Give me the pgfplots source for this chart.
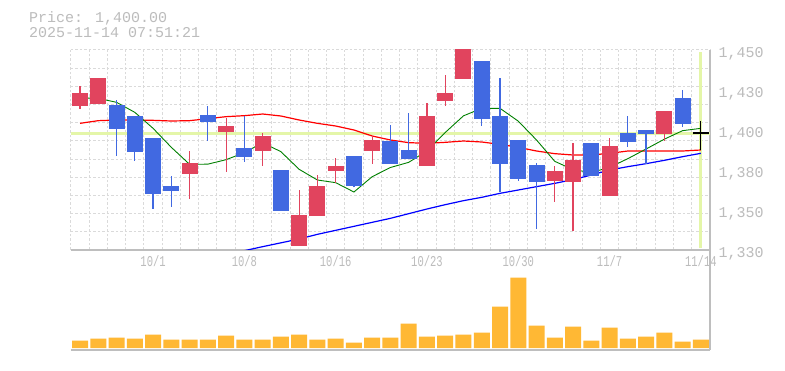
\documentclass[border=0pt]{standalone}
\usepackage{fontspec}
\setmainfont{Liberation Mono}
\usepackage{pgfplots}
\pgfplotsset{compat=1.18}
\usepackage{pgfplotstable}

\definecolor{upred}{RGB}{225,68,94}
\definecolor{dnblue}{RGB}{65,105,225}
\definecolor{volc}{RGB}{255,184,52}
\definecolor{hlc}{RGB}{228,246,168}
\definecolor{gridc}{RGB}{218,218,218}
\definecolor{axc}{RGB}{190,190,190}
\definecolor{txtc}{RGB}{188,188,188}
\definecolor{magreen}{RGB}{0,128,0}

% up candles (red): x, low, high, body bottom, body top
\pgfplotstableread{
x  lo     hi     bot    top
0  1414.8 1428.4 1416.6 1424.2
1  1417.8 1433.2 1417.8 1433.2
6  1360.6 1389.4 1375.8 1382.2
8  1377.0 1409.2 1401.0 1404.4
10 1380.6 1400.2 1389.6 1398.4
12 1332.6 1366.0 1332.6 1351.0
13 1350.6 1375.0 1350.6 1368.4
14 1370.4 1385.4 1377.6 1380.4
16 1381.8 1398.2 1389.6 1395.8
19 1380.6 1418.0 1380.6 1410.4
20 1416.6 1435.0 1419.6 1424.2
21 1432.8 1452.0 1432.8 1452.0
26 1359.0 1380.4 1371.6 1377.4
27 1341.4 1394.2 1371.0 1384.2
29 1362.6 1397.2 1362.6 1392.4
32 1395.4 1413.4 1399.6 1413.4
}\upc

% down candles (blue)
\pgfplotstableread{
x  lo     hi     bot    top
2  1386.6 1419.8 1402.8 1417.0
3  1383.6 1410.4 1389.0 1410.4
4  1354.8 1397.2 1363.8 1397.2
5  1356.0 1374.4 1365.6 1368.4
7  1395.6 1416.4 1406.8 1411.0
9  1383.0 1410.4 1386.0 1391.2
11 1353.6 1378.0 1353.6 1378.0
15 1367.6 1386.4 1368.6 1386.4
17 1381.8 1405.0 1381.8 1395.4
18 1384.8 1412.2 1384.8 1390.0
22 1404.6 1443.4 1408.8 1443.4
23 1364.6 1433.2 1381.8 1410.4
24 1371.6 1396.0 1372.8 1396.0
25 1342.6 1382.2 1371.0 1381.0
28 1374.6 1394.2 1374.6 1394.2
30 1392.0 1410.4 1395.0 1400.2
31 1381.4 1402.2 1399.8 1402.2
33 1404.0 1426.0 1405.8 1421.2
}\dnc

% current (doji, black)
\pgfplotstableread{
x  lo     hi     bot    top
34 1390.0 1407.4 1399.5 1400.5
}\cur

\pgfplotstableread{
x v
0 1406
1 1407.6
2 1408
3 1408
4 1407.8
5 1407.4
6 1407.6
7 1408.8
8 1410
9 1410.6
10 1411.6
11 1410.4
12 1408
13 1406
14 1404.4
15 1402
16 1398.4
17 1396
18 1394.4
19 1394
20 1394.6
21 1395.4
22 1394.8
23 1393.4
24 1391.6
25 1389.4
26 1387.8
27 1387
28 1387
29 1388
30 1389.4
31 1389.4
32 1389.4
33 1389.4
34 1390
}\maRed

\pgfplotstableread{
x v
0 1421.2
1 1421
2 1418.6
3 1412.6
4 1403
5 1391.6
6 1381.4
7 1381.5
8 1384.2
9 1388.4
10 1394.4
11 1389
12 1378.4
13 1372
14 1370.4
15 1364.8
16 1374
17 1379.5
18 1382.6
19 1389.5
20 1400.5
21 1410.5
22 1415
23 1415
24 1407.3
25 1396
26 1383.2
27 1378.2
28 1376.5
29 1379.6
30 1384.8
31 1390.6
32 1396.5
33 1401.6
34 1403
}\maGreen

\pgfplotstableread{
x v
8 1327.2
9 1329.6
10 1332
11 1334.3
12 1336.6
13 1339.4
14 1341.8
15 1344.2
16 1346.6
17 1349
18 1351.8
19 1354.6
20 1357.2
21 1359.6
22 1361.6
23 1364
24 1366
25 1368
26 1370
27 1372.2
28 1375
29 1378
30 1380
31 1381.8
32 1383.8
33 1386
34 1388
}\maBlue

\pgfplotstableread{
x v
0 23
1 29
2 32
3 29
4 41
5 26
6 26
7 26
8 38
9 26
10 26
11 35
12 41
13 26
14 29
15 17
16 32
17 32
18 74
19 35
20 38
21 41
22 47
23 125
24 212
25 68
26 32
27 65
28 23
29 62
30 29
31 35
32 47
33 20
34 26
}\vol

\pgfplotsset{
  wick/.style={draw=none, mark=none, forget plot,
    error bars/.cd, y dir=plus, y explicit, error mark=none,
    error bar style={draw=#1, solid, line width=1.2pt}},
  body/.style={draw=none, mark=none, forget plot,
    error bars/.cd, y dir=plus, y explicit, error mark=none,
    error bar style={draw=#1, solid, line width=16pt}},
}

\begin{document}
\begin{tikzpicture}
\fill[white] (0pt,0pt) rectangle (785pt,370pt);
\path[use as bounding box] (0pt,0pt) rectangle (785pt,370pt);

\node[anchor=base west, text=txtc, font=\fontsize{15pt}{18pt}\selectfont, inner sep=0pt] at (29pt,347.3pt) {Price: 1,400.00};
\node[anchor=base west, text=txtc, font=\fontsize{15pt}{18pt}\selectfont, inner sep=0pt] at (29pt,332.3pt) {2025-11-14 07:51:21};

% price panel
\begin{axis}[
  at={(70.9pt,120pt)}, anchor=south west,
  width=639.1pt, height=200pt, scale only axis,
  xmin=-0.5, xmax=34.5, ymin=1330, ymax=1450,
  axis x line*=bottom, axis y line*=right,
  axis line style={draw=axc, line width=1.2pt},
  xtick={4,9,14,19,24,29,34},
  xticklabels={10/1,10/8,10/16,10/23,10/30,11/7,11/14},
  minor xtick={-0.5,0.5,...,34.5},
  ytick={1330,1354,1378,1402,1426,1450},
  yticklabels={{1,330},{1,350},{1,380},{1,400},{1,430},{1,450}},
  minor ytick={1340.909,1351.818,1362.727,1373.636,1384.545,1395.455,1406.364,1417.273,1428.182,1439.091,1450},
  xminorgrids, yminorgrids, xmajorgrids=false, ymajorgrids=false,
  minor grid style={draw=gridc, line width=1pt, dash pattern=on 2.5pt off 2pt},
  major tick length=0pt, minor tick length=0pt,
  tick style={draw=none},
  xticklabel style={font=\fontsize{15pt}{15pt}\selectfont, text=txtc, xscale=0.7, anchor=base, inner sep=0pt, yshift=-16.3pt},
  yticklabel style={font=\fontsize{15pt}{15pt}\selectfont, text=txtc, anchor=base west, inner sep=0pt, xshift=8.5pt, yshift=-7.3pt},
]
\addplot[hlc, line width=2.8pt, forget plot] coordinates {(-0.5,1400) (34.5,1400)};
\addplot[hlc, line width=3pt, forget plot] coordinates {(34,1331) (34,1449)};
\addplot[red, line width=1.2pt, forget plot] table[x=x, y=v] {\maRed};
\addplot[magreen, line width=0.9pt, forget plot] table[x=x, y=v] {\maGreen};
\addplot[blue, line width=1.2pt, forget plot] table[x=x, y=v] {\maBlue};

\addplot[wick=upred] table[x=x, y=lo, y error plus expr={\thisrow{hi}-\thisrow{lo}}] {\upc};
\addplot[body=upred] table[x=x, y=bot, y error plus expr={\thisrow{top}-\thisrow{bot}}] {\upc};
\addplot[wick=dnblue] table[x=x, y=lo, y error plus expr={\thisrow{hi}-\thisrow{lo}}] {\dnc};
\addplot[body=dnblue] table[x=x, y=bot, y error plus expr={\thisrow{top}-\thisrow{bot}}] {\dnc};
\addplot[wick=black] table[x=x, y=lo, y error plus expr={\thisrow{hi}-\thisrow{lo}}] {\cur};
\addplot[body=black] table[x=x, y=bot, y error plus expr={\thisrow{top}-\thisrow{bot}}] {\cur};
\end{axis}

% volume panel
\begin{axis}[
  at={(70.9pt,20pt)}, anchor=south west,
  width=639.1pt, height=100pt, scale only axis,
  xmin=-0.5, xmax=34.5, ymin=-5.5, ymax=294.5,
  axis x line*=bottom, axis y line*=right,
  axis line style={draw=axc, line width=1.2pt},
  xtick=\empty, ytick=\empty,
  minor xtick={-0.5,0.5,...,34.5},
  xminorgrids,
  minor grid style={draw=gridc, line width=1pt, dash pattern=on 2.5pt off 2pt},
  major tick length=0pt, minor tick length=0pt,
  tick style={draw=none},
  ybar, bar width=16pt,
]
\addplot[fill=volc, draw=none] table[x=x, y=v] {\vol};
\end{axis}
\end{tikzpicture}
\end{document}
